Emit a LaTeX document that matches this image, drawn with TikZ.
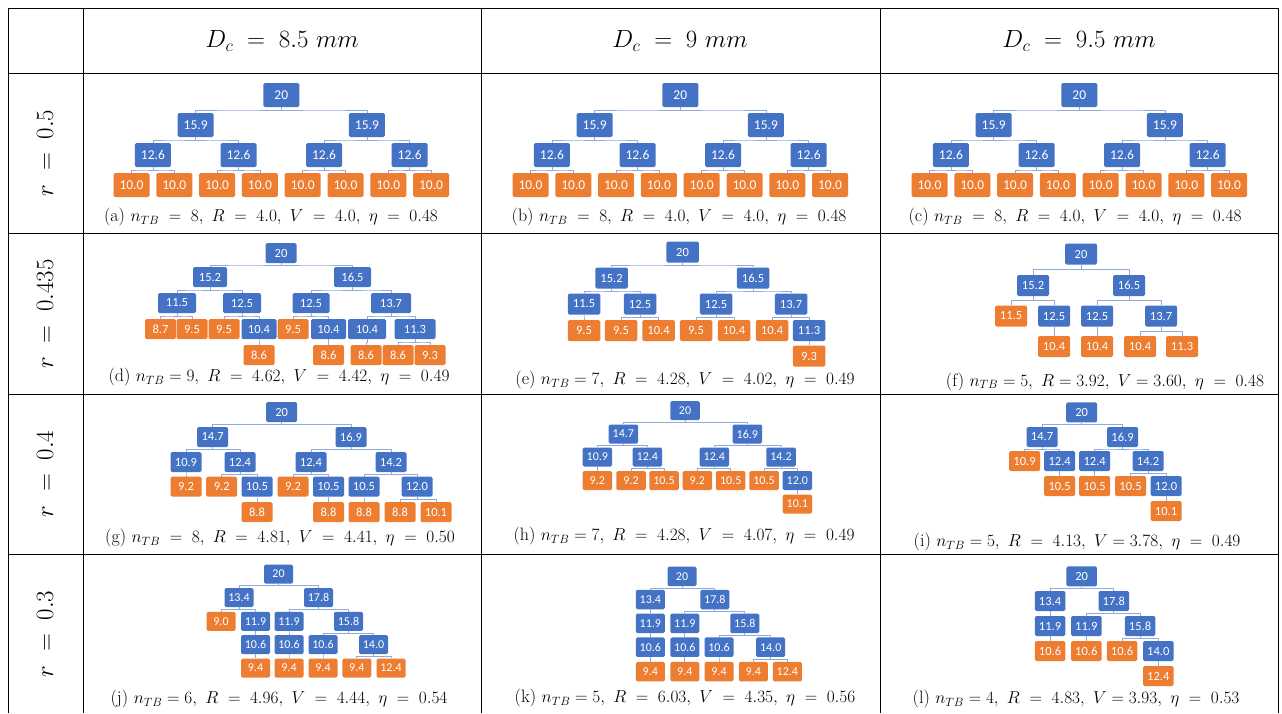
\documentclass[tikz,border=0pt]{standalone}
\usepackage{fontspec}
\newfontfamily\boxfont{Carlito}
\usetikzlibrary{calc}
\definecolor{blu}{RGB}{68,114,196}
\definecolor{org}{RGB}{237,125,49}
\definecolor{lnc}{RGB}{143,170,220}
\newcommand{\weq}{\;=\;}

\begin{document}
\begin{tikzpicture}[x=1pt,y=-1pt,line join=round,
	tbl/.style={line width=1pt},
	bx/.style={rounded corners=1.5pt,inner sep=0pt,text=white,font=\fontsize{\fs}{\fs}\selectfont\boxfont,minimum width=\bw,minimum height=\bh},
	bl/.style={bx,fill=blu},
	og/.style={bx,fill=org},
	lnk/.style={draw=lnc,line width=0.8pt},
	captxt/.style={font=\fontsize{18}{21}\selectfont},
	hd/.style={font=\fontsize{25}{29}\selectfont}]
	\useasboundingbox (0,0) rectangle (1282,713);
	\def\lk#1#2{\draw[lnk] (#1.south) |- ($(#1.south)!.5!(#2.north)$) -| (#2.north);}
	% Khung bảng
	\draw[tbl] (8,713) -- (8,8) -- (1278,8) -- (1278,713);
	\foreach \x in {83,481,880} \draw[tbl] (\x,8) -- (\x,713);
	\foreach \y in {73,233,394,554} \draw[tbl] (8,\y) -- (1278,\y);
	\node[hd] (h1) at (282,41) {$D_c \weq 8.5\ mm$};
	\node[hd] (h2) at (680,41) {$D_c \weq 9\ mm$};
	\node[hd] (h3) at (1079,41) {$D_c \weq 9.5\ mm$};
	\node[hd,rotate=90] (r1) at (45,153) {$r \weq 0.5$};
	\node[hd,rotate=90] (r2) at (45,314) {$r \weq 0.435$};
	\node[hd,rotate=90] (r3) at (45,474) {$r \weq 0.4$};
	\node[hd,rotate=90] (r4) at (45,634) {$r \weq 0.3$};
	% Hàng 1: (a), (b), (c)
	\def\bw{36pt}\def\bh{24pt}\def\fs{13.5}
	\foreach \c/\dx in {a/0,b/399,c/798}{
		\node[bl] (\c0) at (281.3+\dx,95) {20};
		\node[bl] (\c1) at (195.7+\dx,125) {15.9};
		\node[bl] (\c2) at (366.9+\dx,125) {15.9};
		\foreach \i in {0,...,3} \node[bl] (\c m\i) at (152.9+85.6*\i+\dx,155) {12.6};
		\foreach \i in {0,...,7} \node[og] (\c l\i) at (131.5+42.8*\i+\dx,185) {10.0};
		\lk{\c0}{\c1}\lk{\c0}{\c2}
		\lk{\c1}{\c m0}\lk{\c1}{\c m1}\lk{\c2}{\c m2}\lk{\c2}{\c m3}
		\foreach \i/\j/\k in {0/0/1,1/2/3,2/4/5,3/6/7}{\lk{\c m\i}{\c l\j}\lk{\c m\i}{\c l\k}}
	}
	\node[captxt] (ca) at (271,217) {(a) $n_{TB} \weq 8,\ R \weq 4.0,\ V \weq 4.0,\ \eta \weq 0.48$};
	\node[captxt] (cb) at (679,217) {(b) $n_{TB} \weq 8,\ R \weq 4.0,\ V \weq 4.0,\ \eta \weq 0.48$};
	\node[captxt] (cc) at (1075,217) {(c) $n_{TB} \weq 8,\ R \weq 4.0,\ V \weq 4.0,\ \eta \weq 0.48$};
	% (d)
	\def\bw{31pt}\def\bh{20pt}\def\fs{12.5}
	\node[bl] (d0) at (281,253) {20};
	\node[bl,minimum width=34pt] (d1) at (210,277) {15.2};
	\node[bl,minimum width=37pt] (d2) at (352.5,277) {16.5};
	\node[bl,minimum width=38pt] (d3) at (177,303) {11.5};
	\node[bl,minimum width=38pt] (d4) at (242,303) {12.5};
	\node[bl,minimum width=37pt] (d5) at (311,303) {12.5};
	\node[bl,minimum width=40pt] (d6) at (391,303) {13.7};
	\node[og] (d7) at (160.5,329) {8.7};
	\node[og] (d8) at (192,329) {9.5};
	\node[og] (d9) at (224,329) {9.5};
	\node[bl,minimum width=35pt] (d10) at (259,329) {10.4};
	\node[og] (d11) at (293,329) {9.5};
	\node[bl,minimum width=35pt] (d12) at (328.5,329) {10.4};
	\node[bl,minimum width=38pt] (d13) at (367,329) {10.4};
	\node[bl,minimum width=41pt] (d14) at (415,329) {11.3};
	\node[og] (d15) at (259,355) {8.6};
	\node[og] (d16) at (328.5,355) {8.6};
	\node[og] (d17) at (366,355) {8.6};
	\node[og] (d18) at (398,355) {8.6};
	\node[og] (d19) at (430,355) {9.3};
	\lk{d0}{d1}\lk{d0}{d2}\lk{d1}{d3}\lk{d1}{d4}\lk{d2}{d5}\lk{d2}{d6}
	\lk{d3}{d7}\lk{d3}{d8}\lk{d4}{d9}\lk{d4}{d10}\lk{d5}{d11}\lk{d5}{d12}
	\lk{d6}{d13}\lk{d6}{d14}\lk{d10}{d15}\lk{d12}{d16}\lk{d13}{d17}\lk{d14}{d18}\lk{d14}{d19}
	\node[captxt] (cd) at (279,377) {(d) $n_{TB} = 9,\ R \weq 4.62,\ V \weq 4.42,\ \eta \weq 0.49$};
	% (e)
	\def\bw{32.5pt}\def\bh{21pt}
	\node[bl] (e0) at (682.5,252) {20};
	\node[bl] (e1) at (611.5,278) {15.2};
	\node[bl] (e2) at (753,278) {16.5};
	\node[bl] (e3) at (584,304) {11.5};
	\node[bl] (e4) at (640,304) {12.5};
	\node[bl] (e5) at (716,304) {12.5};
	\node[bl] (e6) at (791,304) {13.7};
	\node[og] (e7) at (584,330.5) {9.5};
	\node[og] (e8) at (621,330.5) {9.5};
	\node[og] (e9) at (658.5,330.5) {10.4};
	\node[og] (e10) at (696,330.5) {9.5};
	\node[og] (e11) at (734,330.5) {10.4};
	\node[og] (e12) at (772,330.5) {10.4};
	\node[bl] (e13) at (809,330.5) {11.3};
	\node[og] (e14) at (809,356) {9.3};
	\lk{e0}{e1}\lk{e0}{e2}\lk{e1}{e3}\lk{e1}{e4}\lk{e2}{e5}\lk{e2}{e6}
	\lk{e3}{e7}\lk{e4}{e8}\lk{e4}{e9}\lk{e5}{e10}\lk{e5}{e11}\lk{e6}{e12}\lk{e6}{e13}\lk{e13}{e14}
	\node[captxt] (ce) at (685,380) {(e) $n_{TB} = 7,\ R \weq 4.28,\ V \weq 4.02,\ \eta \weq 0.49$};
	% (f)
	\def\bw{32pt}\def\bh{21pt}
	\node[bl] (f0) at (1081,254) {20};
	\node[bl] (f1) at (1033,285.5) {15.2};
	\node[bl] (f2) at (1129,285.5) {16.5};
	\node[og] (f3) at (1011,316) {11.5};
	\node[bl] (f4) at (1054,316) {12.5};
	\node[bl] (f5) at (1097,316) {12.5};
	\node[bl] (f6) at (1161,316) {13.7};
	\node[og] (f7) at (1054,346.5) {10.4};
	\node[og] (f8) at (1097,346.5) {10.4};
	\node[og] (f9) at (1140,346.5) {10.4};
	\node[og] (f10) at (1182,346.5) {11.3};
	\lk{f0}{f1}\lk{f0}{f2}\lk{f1}{f3}\lk{f1}{f4}\lk{f2}{f5}\lk{f2}{f6}
	\lk{f4}{f7}\lk{f5}{f8}\lk{f6}{f9}\lk{f6}{f10}
	\node[captxt] (cf) at (1105,381.5) {(f) $n_{TB} = 5,\ R = 3.92,\ V = 3.60,\ \eta \weq 0.48$};
	% (g)
	\def\bw{31pt}\def\bh{20pt}
	\node[bl] (g0) at (281.7,412) {20};
	\node[bl] (g1) at (212.7,437) {14.7};
	\node[bl] (g2) at (351,437) {16.9};
	\node[bl] (g3) at (186,462) {10.9};
	\node[bl] (g4) at (240,462) {12.4};
	\node[bl] (g5) at (311,462) {12.4};
	\node[bl] (g6) at (391,462) {14.2};
	\node[og] (g7) at (186,486.7) {9.2};
	\node[og] (g8) at (221.7,486.7) {9.2};
	\node[bl] (g9) at (257,486.7) {10.5};
	\node[og] (g10) at (293,486.7) {9.2};
	\node[bl] (g11) at (328.5,486.7) {10.5};
	\node[bl] (g12) at (364,486.7) {10.5};
	\node[bl] (g13) at (417,486.7) {12.0};
	\node[og] (g14) at (257,512) {8.8};
	\node[og] (g15) at (328.5,512) {8.8};
	\node[og] (g16) at (364,512) {8.8};
	\node[og] (g17) at (400,512) {8.8};
	\node[og] (g18) at (436,512) {10.1};
	\lk{g0}{g1}\lk{g0}{g2}\lk{g1}{g3}\lk{g1}{g4}\lk{g2}{g5}\lk{g2}{g6}
	\lk{g3}{g7}\lk{g4}{g8}\lk{g4}{g9}\lk{g5}{g10}\lk{g5}{g11}\lk{g6}{g12}\lk{g6}{g13}
	\lk{g9}{g14}\lk{g11}{g15}\lk{g12}{g16}\lk{g13}{g17}\lk{g13}{g18}
	\node[captxt] (cg) at (280,538) {(g) $n_{TB} \weq 8,\ R \weq 4.81,\ V \weq 4.41,\ \eta \weq 0.50$};
	% (h)
	\def\bw{29.5pt}\def\bh{19pt}\def\fs{12}
	\node[bl] (h0) at (685,410.5) {20};
	\node[bl] (h1) at (623.3,434) {14.7};
	\node[bl] (h2) at (747.3,434) {16.9};
	\node[bl] (h3) at (597.3,457) {10.9};
	\node[bl] (h4) at (647.3,457) {12.4};
	\node[bl] (h5) at (714.3,457) {12.4};
	\node[bl] (h6) at (781,457) {14.2};
	\node[og] (h7) at (597.3,480.5) {9.2};
	\node[og] (h8) at (631,480.5) {9.2};
	\node[og] (h9) at (664,480.5) {10.5};
	\node[og] (h10) at (697.3,480.5) {9.2};
	\node[og] (h11) at (730.7,480.5) {10.5};
	\node[og] (h12) at (764,480.5) {10.5};
	\node[bl] (h13) at (797.3,480.5) {12.0};
	\node[og] (h14) at (797.3,504) {10.1};
	\lk{h0}{h1}\lk{h0}{h2}\lk{h1}{h3}\lk{h1}{h4}\lk{h2}{h5}\lk{h2}{h6}
	\lk{h3}{h7}\lk{h4}{h8}\lk{h4}{h9}\lk{h5}{h10}\lk{h5}{h11}\lk{h6}{h12}\lk{h6}{h13}\lk{h13}{h14}
	\node[captxt] (ch) at (684,536) {(h) $n_{TB} = 7,\ R \weq 4.28,\ V \weq 4.07,\ \eta \weq 0.49$};
	% (i)
	\def\bw{31pt}\def\bh{20pt}\def\fs{12.5}
	\node[bl] (i0) at (1081.7,412.3) {20};
	\node[bl] (i1) at (1042,437) {14.7};
	\node[bl] (i2) at (1122.5,437) {16.9};
	\node[og] (i3) at (1024.5,461) {10.9};
	\node[bl] (i4) at (1059.7,461) {12.4};
	\node[bl] (i5) at (1094.7,461) {12.4};
	\node[bl] (i6) at (1148,461) {14.2};
	\node[og] (i7) at (1059.7,486) {10.5};
	\node[og] (i8) at (1094.7,486) {10.5};
	\node[og] (i9) at (1130.5,486) {10.5};
	\node[bl] (i10) at (1166,486) {12.0};
	\node[og] (i11) at (1166,511) {10.1};
	\lk{i0}{i1}\lk{i0}{i2}\lk{i1}{i3}\lk{i1}{i4}\lk{i2}{i5}\lk{i2}{i6}
	\lk{i4}{i7}\lk{i5}{i8}\lk{i6}{i9}\lk{i6}{i10}\lk{i10}{i11}
	\node[captxt] (ci) at (1077,542) {(i) $n_{TB} = 5,\ R \weq 4.13,\ V = 3.78,\ \eta \weq 0.49$};
	% (j)
	\def\bw{29pt}\def\bh{19pt}\def\fs{12}
	\node[bl] (j0) at (278.5,574) {20};
	\node[bl] (j1) at (239,597.5) {13.4};
	\node[bl] (j2) at (318.5,597.5) {17.8};
	\node[og] (j3) at (221,621.3) {9.0};
	\node[bl] (j4) at (255.5,621.3) {11.9};
	\node[bl] (j5) at (289,621.3) {11.9};
	\node[bl] (j6) at (348.5,621.3) {15.8};
	\node[bl] (j7) at (255.5,644.7) {10.6};
	\node[bl] (j8) at (289,644.7) {10.6};
	\node[bl] (j9) at (323,644.7) {10.6};
	\node[bl] (j10) at (373.5,644.7) {14.0};
	\node[og] (j11) at (255.5,668) {9.4};
	\node[og] (j12) at (289,668) {9.4};
	\node[og] (j13) at (323,668) {9.4};
	\node[og] (j14) at (356.8,668) {9.4};
	\node[og] (j15) at (391,668) {12.4};
	\lk{j0}{j1}\lk{j0}{j2}\lk{j1}{j3}\lk{j1}{j4}\lk{j2}{j5}\lk{j2}{j6}
	\lk{j4}{j7}\lk{j5}{j8}\lk{j6}{j9}\lk{j6}{j10}
	\lk{j7}{j11}\lk{j8}{j12}\lk{j9}{j13}\lk{j10}{j14}\lk{j10}{j15}
	\node[captxt] (cj) at (279,699) {(j) $n_{TB} = 6,\ R \weq 4.96,\ V \weq 4.44,\ \eta \weq 0.54$};
	% (k)
	\def\bw{29pt}\def\bh{19.5pt}
	\node[bl] (k0) at (682,576.3) {20};
	\node[bl] (k1) at (650.3,599.5) {13.4};
	\node[bl] (k2) at (714.8,599.5) {17.8};
	\node[bl] (k3) at (650.3,623.3) {11.9};
	\node[bl] (k4) at (684.8,623.3) {11.9};
	\node[bl] (k5) at (744.8,623.3) {15.8};
	\node[bl] (k6) at (650.3,647.2) {10.6};
	\node[bl] (k7) at (684.8,647.2) {10.6};
	\node[bl] (k8) at (719,647.2) {10.6};
	\node[bl] (k9) at (770.7,647.2) {14.0};
	\node[og] (k10) at (650.3,671.7) {9.4};
	\node[og] (k11) at (684.8,671.7) {9.4};
	\node[og] (k12) at (719,671.7) {9.4};
	\node[og] (k13) at (753.3,671.7) {9.4};
	\node[og] (k14) at (787.3,671.7) {12.4};
	\lk{k0}{k1}\lk{k0}{k2}\lk{k1}{k3}\lk{k2}{k4}\lk{k2}{k5}
	\lk{k3}{k6}\lk{k4}{k7}\lk{k5}{k8}\lk{k5}{k9}
	\lk{k6}{k10}\lk{k7}{k11}\lk{k8}{k12}\lk{k9}{k13}\lk{k9}{k14}
	\node[captxt] (ck) at (685,698) {(k) $n_{TB} = 5,\ R \weq 6.03,\ V \weq 4.35,\ \eta \weq 0.56$};
	% (l)
	\def\bw{30.5pt}\def\bh{20pt}\def\fs{12.5}
	\node[bl] (l0) at (1081.7,576.3) {20};
	\node[bl] (l1) at (1050,601) {13.4};
	\node[bl] (l2) at (1113.8,601) {17.8};
	\node[bl] (l3) at (1050,626) {11.9};
	\node[bl] (l4) at (1086.3,626) {11.9};
	\node[bl] (l5) at (1140,626) {15.8};
	\node[og] (l6) at (1050,651) {10.6};
	\node[og] (l7) at (1086.3,651) {10.6};
	\node[og] (l8) at (1122,651) {10.6};
	\node[bl] (l9) at (1158.3,651) {14.0};
	\node[og] (l10) at (1158.3,676) {12.4};
	\lk{l0}{l1}\lk{l0}{l2}\lk{l1}{l3}\lk{l2}{l4}\lk{l2}{l5}
	\lk{l3}{l6}\lk{l4}{l7}\lk{l5}{l8}\lk{l5}{l9}\lk{l9}{l10}
	\node[captxt] (cl) at (1076,699) {(l) $n_{TB} = 4,\ R \weq 4.83,\ V = 3.93,\ \eta \weq 0.53$};
\end{tikzpicture}
\end{document}
